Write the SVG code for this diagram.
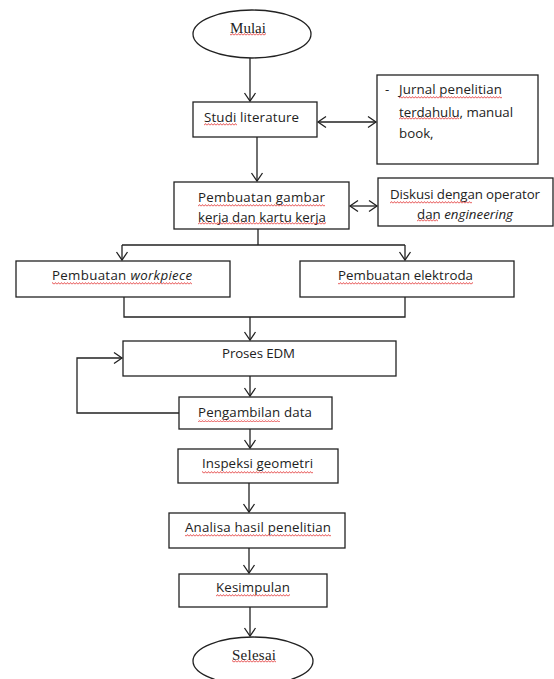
<svg xmlns="http://www.w3.org/2000/svg" width="554" height="679" viewBox="0 0 554 679">
<style>
.b{fill:#fff;stroke:#222;stroke-width:1.3}
.c{fill:none;stroke:#222;stroke-width:1.3}
.t{font-family:"Open Sans","Liberation Sans",sans-serif;font-size:13.3px;fill:#222}
.s{font-family:"Liberation Serif","Times New Roman",serif;font-size:15px;fill:#222}
.q{fill:url(#sq)}
</style>
<defs>
<marker id="a" markerUnits="userSpaceOnUse" markerWidth="14" markerHeight="14" refX="10" refY="7" orient="auto-start-reverse">
<path d="M2,1.5 L10,7 L2,12.5" fill="none" stroke="#222" stroke-width="1.3"/>
</marker>
<pattern id="sq" patternUnits="userSpaceOnUse" width="3" height="3">
<path d="M0,2.4 L1.5,0.6 L3,2.4" fill="none" stroke="#e02828" stroke-width="0.8"/>
</pattern>
</defs>
<g id="connectors">
<path class="c" d="M250,58 V101" marker-end="url(#a)"/>
<path class="c" d="M318,122 H376" marker-start="url(#a)" marker-end="url(#a)"/>
<path class="c" d="M257,137 V181" marker-end="url(#a)"/>
<path class="c" d="M350,206 H377" marker-start="url(#a)" marker-end="url(#a)"/>
<path class="c" d="M258,229 V245 M122,245 H405"/>
<path class="c" d="M122,245 V260" marker-end="url(#a)"/>
<path class="c" d="M405,245 V260" marker-end="url(#a)"/>
<path class="c" d="M124,297 V317 H405 V297"/>
<path class="c" d="M250,317 V340" marker-end="url(#a)"/>
<path class="c" d="M250,376 V396" marker-end="url(#a)"/>
<path class="c" d="M179,413 H77 V358 H122" marker-end="url(#a)"/>
<path class="c" d="M250,429 V448" marker-end="url(#a)"/>
<path class="c" d="M249,483 V512" marker-end="url(#a)"/>
<path class="c" d="M249,548 V573" marker-end="url(#a)"/>
<path class="c" d="M250,607 V636" marker-end="url(#a)"/>
</g>
<g id="mulai"><ellipse class="b" cx="252" cy="34" rx="59" ry="24"/>
<text class="s" x="230" y="33" textLength="36">Mulai</text><rect class="q" x="230" y="33" width="36" height="3"/></g>
<g id="studi"><rect class="b" x="193" y="102" width="124" height="35"/>
<text class="t" x="204" y="122" textLength="95">Studi literature</text><rect class="q" x="204" y="123" width="33" height="3"/></g>
<g id="jurnal"><rect class="b" x="377" y="75" width="161" height="89"/>
<text class="t" x="385" y="94">-</text>
<text class="t" x="399" y="94" textLength="103">Jurnal penelitian</text><rect class="q" x="399" y="96" width="103" height="3"/>
<text class="t" x="399" y="117" textLength="114">terdahulu,  manual</text><rect class="q" x="399" y="117" width="60" height="3"/>
<text class="t" x="399" y="138">book,</text></g>
<g id="gambar"><rect class="b" x="174" y="182" width="175" height="47"/>
<text class="t" x="198" y="202" textLength="127">Pembuatan gambar</text><rect class="q" x="198" y="204" width="127" height="3"/>
<text class="t" x="198" y="222" textLength="128">kerja dan kartu kerja</text><rect class="q" x="198" y="222" width="128" height="3"/></g>
<g id="diskusi"><rect class="b" x="378" y="178" width="175" height="48"/>
<text class="t" x="390" y="199" textLength="150">Diskusi dengan operator</text><rect class="q" x="390" y="201" width="82" height="3"/>
<text class="t" x="417" y="219" textLength="96">dan <tspan font-style="italic">engineering</tspan></text><rect class="q" x="417" y="219" width="21" height="3"/></g>
<g id="workpiece"><rect class="b" x="16" y="261" width="214" height="36"/>
<text class="t" x="52" y="280" textLength="140">Pembuatan <tspan font-style="italic">workpiece</tspan></text><rect class="q" x="52" y="282" width="140" height="3"/></g>
<g id="elektroda"><rect class="b" x="300" y="261" width="214" height="36"/>
<text class="t" x="338" y="280" textLength="135">Pembuatan elektroda</text><rect class="q" x="338" y="282" width="135" height="3"/></g>
<g id="edm"><rect class="b" x="123" y="341" width="273" height="35"/>
<text class="t" x="222" y="358" textLength="73">Proses EDM</text></g>
<g id="pengambilan"><rect class="b" x="179" y="397" width="153" height="32"/>
<text class="t" x="198" y="417" textLength="114">Pengambilan data</text><rect class="q" x="198" y="419" width="82" height="3"/></g>
<g id="inspeksi"><rect class="b" x="178" y="449" width="160" height="34"/>
<text class="t" x="202" y="468" textLength="111">Inspeksi geometri</text><rect class="q" x="202" y="471" width="111" height="3"/></g>
<g id="analisa"><rect class="b" x="169" y="513" width="176" height="35"/>
<text class="t" x="185" y="532" textLength="146">Analisa hasil penelitian</text><rect class="q" x="185" y="534" width="146" height="3"/></g>
<g id="kesimpulan"><rect class="b" x="179" y="574" width="148" height="33"/>
<text class="t" x="216" y="592" textLength="74">Kesimpulan</text><rect class="q" x="216" y="594" width="74" height="3"/></g>
<g id="selesai"><ellipse class="b" cx="253" cy="661" rx="60" ry="24"/>
<text class="s" x="232" y="660" textLength="44">Selesai</text><rect class="q" x="232" y="660" width="44" height="3"/></g>
</svg>
